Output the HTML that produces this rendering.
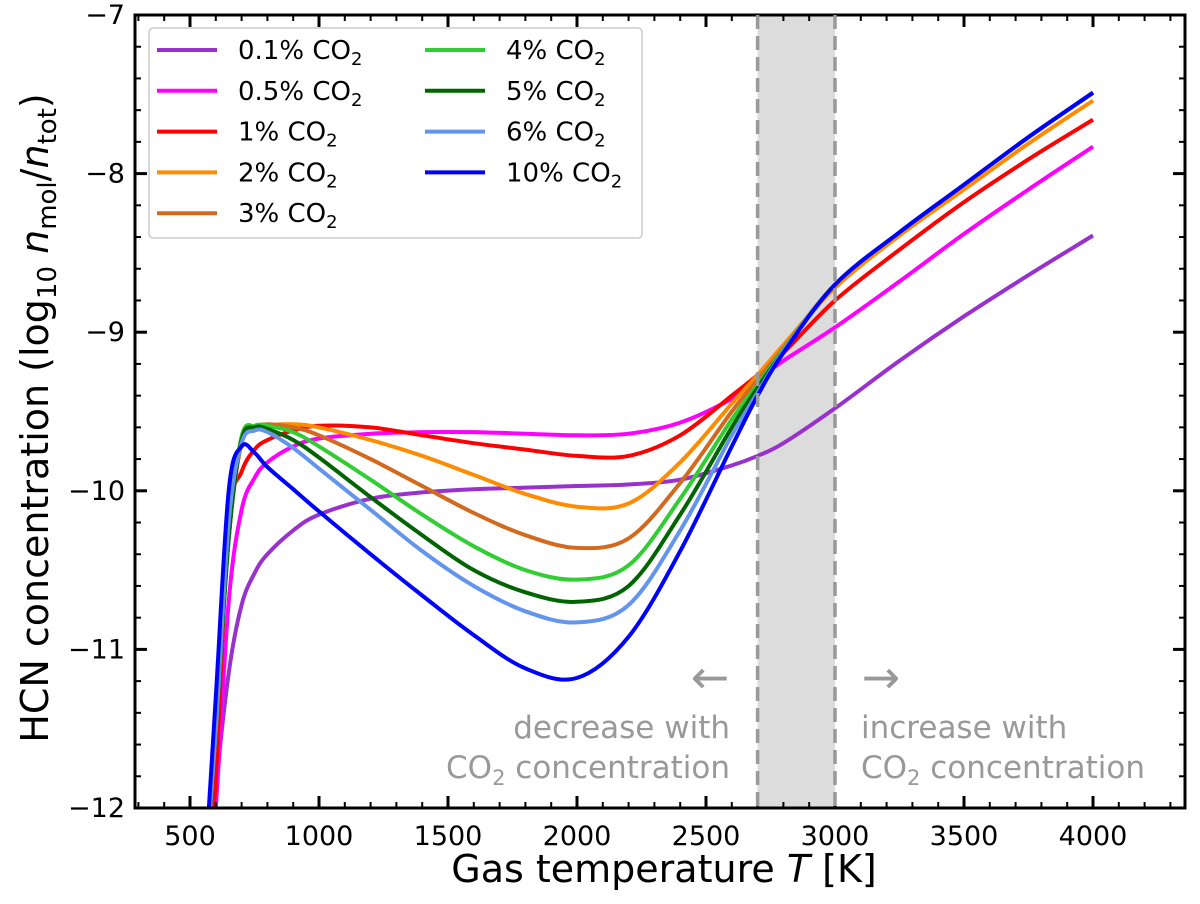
<!DOCTYPE html>
<html><head><meta charset="utf-8"><style>
html,body{margin:0;background:#fff;overflow:hidden;width:1200px;height:904px;}
svg{display:block;font-family:"DejaVu Sans","Liberation Sans",sans-serif;}
</style></head><body>
<svg id="chart" width="1200" height="904" viewBox="0 0 1200 904">
<defs><clipPath id="clip"><rect x="135" y="15" width="1050" height="793"/></clipPath></defs>
<g id="span"></g>
<g id="series" clip-path="url(#clip)"></g>
<g id="axes"></g>
<g id="legend"></g>
<g fill="#999" font-size="31">
<text x="710" y="693" text-anchor="middle" font-size="46">←</text>
<text x="881" y="693" text-anchor="middle" font-size="46">→</text>
<text x="730" y="738" text-anchor="end">decrease with</text>
<text x="730" y="778" text-anchor="end">CO<tspan font-size="21" dy="7">2</tspan><tspan dy="-7"> concentration</tspan></text>
<text x="861" y="738">increase with</text>
<text x="861" y="778">CO<tspan font-size="21" dy="7">2</tspan><tspan dy="-7"> concentration</tspan></text>
</g>
<text x="664" y="882" text-anchor="middle" font-size="38">Gas temperature <tspan font-style="italic">T</tspan> [K]</text>
<text transform="translate(48,418) rotate(-90)" text-anchor="middle" font-size="38">HCN concentration (log<tspan font-size="26" dy="8">10</tspan><tspan dy="-8"> </tspan><tspan font-style="italic">n</tspan><tspan font-size="26" dy="8">mol</tspan><tspan dy="-8">/</tspan><tspan font-style="italic">n</tspan><tspan font-size="26" dy="8">tot</tspan><tspan dy="-8">)</tspan></text>
</svg>
<script>
const temps = [550,600,650,700,750,800,900,1000,1200,1400,1600,1800,2000,2200,2400,2600,2700,2800,3000,3250,3500,3750,4000];
const labels = ["0.1%","0.5%","1%","2%","3%","4%","5%","6%","10%"];
const colors = ["#9932cc","#ff00ff","#ff0000","#ff8c00","#d2691e","#32cd32","#006400","#6495ed","#0000ff"];
const s01 = [-13,-11.9,-11.15,-10.72,-10.52,-10.4,-10.25,-10.15,-10.05,-10.01,-9.99,-9.98,-9.97,-9.96,-9.93,-9.84,-9.78,-9.7,-9.48,-9.18,-8.9,-8.64,-8.39];
const s05 = [-13,-12.0,-10.7,-10.12,-9.92,-9.82,-9.72,-9.67,-9.64,-9.63,-9.63,-9.64,-9.65,-9.64,-9.57,-9.42,-9.3,-9.18,-8.97,-8.68,-8.38,-8.1,-7.83];
const s1 = [-13,-11.8,-10.2,-9.88,-9.74,-9.68,-9.62,-9.59,-9.6,-9.65,-9.7,-9.74,-9.78,-9.78,-9.65,-9.4,-9.27,-9.13,-8.8,-8.48,-8.18,-7.91,-7.66];
const s2 = [-12.6,-11.5,-10.3,-9.7,-9.62,-9.59,-9.58,-9.6,-9.68,-9.78,-9.9,-10.02,-10.1,-10.08,-9.82,-9.45,-9.27,-9.08,-8.72,-8.39,-8.1,-7.81,-7.54];
const s3 = [-12.6,-11.5,-10.3,-9.66,-9.6,-9.58,-9.6,-9.65,-9.8,-9.97,-10.14,-10.28,-10.36,-10.3,-9.95,-9.5,-9.3,-9.1,-8.7,-8.37,-8.07,-7.77,-7.49];
const s4 = [-12.6,-11.5,-10.3,-9.66,-9.59,-9.59,-9.63,-9.72,-9.93,-10.15,-10.35,-10.5,-10.56,-10.47,-10.05,-9.55,-9.33,-9.11,-8.7,-8.37,-8.07,-7.77,-7.49];
const s5 = [-12.6,-11.5,-10.3,-9.68,-9.6,-9.61,-9.68,-9.79,-10.04,-10.28,-10.5,-10.64,-10.7,-10.6,-10.15,-9.6,-9.35,-9.12,-8.7,-8.37,-8.07,-7.77,-7.49];
const s6 = [-12.6,-11.5,-10.2,-9.7,-9.62,-9.63,-9.73,-9.86,-10.12,-10.38,-10.6,-10.76,-10.83,-10.72,-10.25,-9.65,-9.38,-9.12,-8.7,-8.37,-8.07,-7.77,-7.49];
const s10 = [-12.6,-11.3,-10.0,-9.72,-9.76,-9.85,-9.99,-10.13,-10.4,-10.66,-10.91,-11.12,-11.18,-10.92,-10.38,-9.72,-9.4,-9.13,-8.7,-8.37,-8.07,-7.77,-7.49];
const seriesVals = [s01,s05,s1,s2,s3,s4,s5,s6,s10];
const xTicks = [500,1000,1500,2000,2500,3000,3500,4000];
const yTicks = [-12,-11,-10,-9,-8,-7];
const spanRange = [2700,3000];

const NS="http://www.w3.org/2000/svg";
const L=135,R=1185,T=15,B=808;
const X=t=>190+(t-500)*0.258;
const Y=v=>15+(-7-v)*158.6;
function mk(tag,attrs,parent){const e=document.createElementNS(NS,tag);for(const k in attrs)e.setAttribute(k,attrs[k]);parent.appendChild(e);return e;}

const sp=document.getElementById('span');
const rect=mk('rect',{x:X(spanRange[0]),y:T,width:X(spanRange[1])-X(spanRange[0]),height:B-T,fill:'#dcdcdc'},sp);



function path(pts){let d=`M${pts[0][0]},${pts[0][1]}`;for(let i=0;i<pts.length-1;i++){const p0=pts[Math.max(i-1,0)],p1=pts[i],p2=pts[i+1],p3=pts[Math.min(i+2,pts.length-1)];
const c1=[p1[0]+(p2[0]-p0[0])/6,p1[1]+(p2[1]-p0[1])/6],c2=[p2[0]-(p3[0]-p1[0])/6,p2[1]-(p3[1]-p1[1])/6];d+=`C${c1[0].toFixed(1)},${c1[1].toFixed(1)} ${c2[0].toFixed(1)},${c2[1].toFixed(1)} ${p2[0].toFixed(1)},${p2[1].toFixed(1)}`;}return d;}
const sg=document.getElementById('series');
seriesVals.forEach((vals,i)=>{
  const pts=temps.map((t,j)=>[X(t),Y(vals[j])]);
  const p=mk('path',{d:path(pts),fill:'none',stroke:colors[i],'stroke-width':4,'stroke-linejoin':'round'},sg);
  
  
});

spanRange.forEach(t=>{
  const l=mk('line',{x1:X(t),x2:X(t),y1:T,y2:B,stroke:'#999','stroke-width':3.5,'stroke-dasharray':'14,7'},sp.parentNode);
  
  
});

const ax=document.getElementById('axes');
const frame=mk('rect',{x:L,y:T,width:R-L,height:B-T,fill:'none',stroke:'#000','stroke-width':3},ax);


for(let t=300;t<=4300;t+=100){const x=X(t);if(x<L||x>R)continue;const maj=t%500===0;const len=maj?12:6;
  mk('line',{x1:x,x2:x,y1:B,y2:B-len,stroke:'#000','stroke-width':maj?3:2},ax);
  mk('line',{x1:x,x2:x,y1:T,y2:T+len,stroke:'#000','stroke-width':maj?3:2},ax);}
xTicks.forEach(t=>{const e=mk('text',{x:X(t),y:B+37,'text-anchor':'middle','font-size':27},ax);e.textContent=t;
  
  });
for(let k=0;k<=25;k++){const v=-12+k*0.2;const y=Y(v);const maj=k%5===0;const len=maj?12:6;
  mk('line',{x1:L,x2:L+len,y1:y,y2:y,stroke:'#000','stroke-width':maj?3:2},ax);
  mk('line',{x1:R,x2:R-len,y1:y,y2:y,stroke:'#000','stroke-width':maj?3:2},ax);}
yTicks.forEach(v=>{const e=mk('text',{x:L-10,y:Y(v)+9,'text-anchor':'end','font-size':27},ax);e.textContent='\u2212'+Math.abs(v);
  
  });

const lg=document.getElementById('legend');
const box=mk('rect',{x:149,y:28,width:493,height:210,rx:4,fill:'#fff','fill-opacity':0.85,stroke:'#ccc','stroke-width':1.5},lg);


labels.forEach((lab,i)=>{const col=i<5?0:1,row=i<5?i:i-5;const lx=col?425:157,ty=50+row*40.8;
  const g=mk('g',{},lg);
  
  
  mk('line',{x1:lx,x2:lx+60,y1:ty,y2:ty,stroke:colors[i],'stroke-width':4},g);
  const t=mk('text',{x:lx+81,y:ty+9,'font-size':26},g);
  t.innerHTML=lab+' CO<tspan font-size="18" dy="6">2</tspan>';});
</script>
</body></html>
